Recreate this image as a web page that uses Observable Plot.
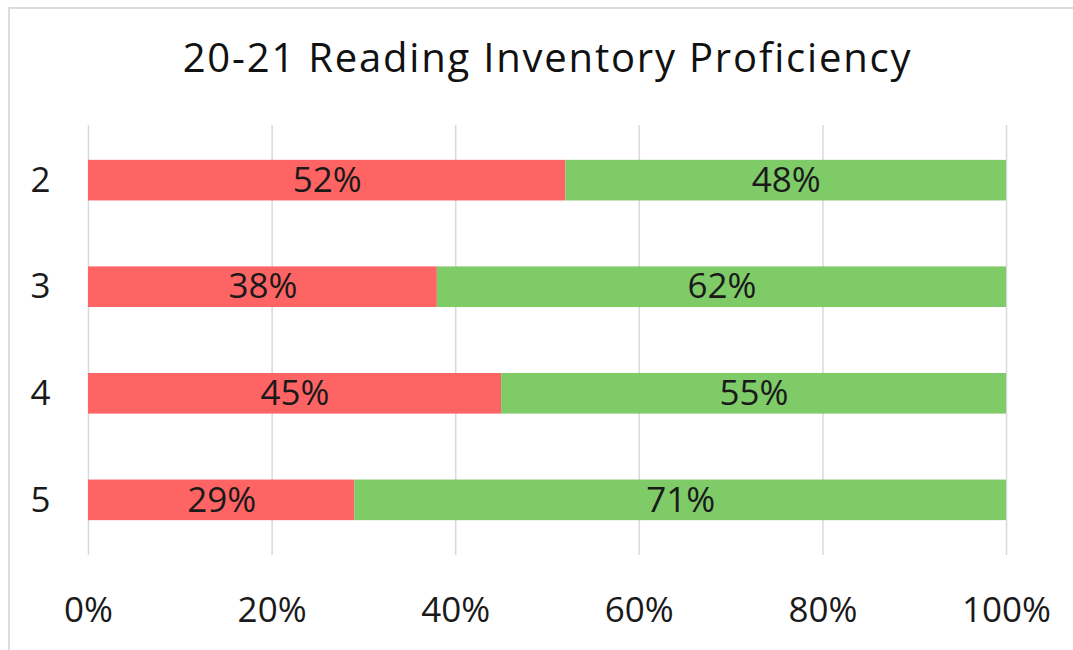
<!DOCTYPE html>
<html>
<head>
<meta charset="utf-8">
<script src="https://cdn.jsdelivr.net/npm/d3@7"></script>
<script src="https://cdn.jsdelivr.net/npm/@observablehq/plot@0.6"></script>
<style>
  html, body { margin: 0; padding: 0; background: #fff; overflow: hidden; }
  #wrap { position: relative; width: 1073px; height: 650px; overflow: hidden; font-family: "Open Sans", sans-serif; }
  #frame { position: absolute; left: 8px; top: 7px; width: 1080px; height: 660px; border: 2px solid #dcdcdc; box-sizing: border-box; }
  #title { position: absolute; left: 0; top: 0; width: 1073px; height: 115px; box-sizing: border-box; padding-top: 32px; padding-left: 22px;
           text-align: center; font-size: 40px; line-height: 50px; color: #111; letter-spacing: 1.8px; }
  #chart { position: absolute; left: 0; top: 115px; }
</style>
</head>
<body>
<div id="wrap">
  <div id="frame"></div>
  <div id="title">20-21 Reading Inventory Proficiency</div>
  <div id="chart"></div>
</div>
<script>
const grades = ["2", "3", "4", "5"];
const notProficient = [52, 38, 45, 29];
const proficient = [48, 62, 55, 71];
const statuses = ["Not proficient", "Proficient"];
const colors = ["#ff6464", "#7ecb68"];
const xTicks = [0, 20, 40, 60, 80, 100];

const data = [];
grades.forEach((g, i) => {
  data.push({grade: g, status: statuses[0], value: notProficient[i]});
  data.push({grade: g, status: statuses[1], value: proficient[i]});
});

const chart = Plot.plot({
  width: 1073,
  height: 535,
  marginTop: 10,
  marginBottom: 95,
  marginLeft: 88,
  marginRight: 67,
  style: {fontFamily: "'Open Sans', sans-serif", fontSize: "35px", color: "#1a1a1a", background: "transparent"},
  x: {domain: [0, 100], label: null},
  y: {domain: grades, label: null, paddingInner: 0.619, paddingOuter: 0.327, round: false},
  color: {domain: statuses, range: colors},
  marks: [
    Plot.gridX(xTicks, {stroke: "#d9d9d9", strokeOpacity: 1, strokeWidth: 1.5}),
    Plot.axisX({ticks: xTicks, tickFormat: d => d + "%", tickSize: 0, tickPadding: 42, fontSize: 35, label: null}),
    Plot.axisY({tickSize: 0, tickPadding: 38, fontSize: 35, label: null}),
    Plot.barX(data, Plot.stackX({x: "value", y: "grade", z: "status", fill: "status", order: statuses})),
    Plot.text(data, Plot.stackX({x: "value", y: "grade", z: "status", text: d => d.value + "%", order: statuses, fill: "#1a1a1a", fontSize: 35}))
  ]
});
document.getElementById("chart").appendChild(chart);
</script>
</body>
</html>
